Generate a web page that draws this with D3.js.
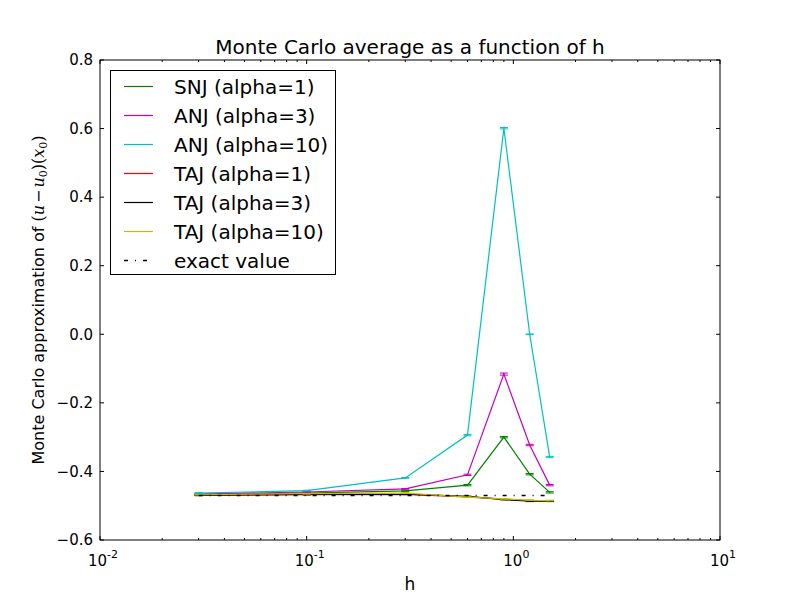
<!DOCTYPE html>
<html>
<head>
<meta charset="utf-8">
<script src="https://cdn.jsdelivr.net/npm/d3@7"></script>
<style>
  body { margin: 0; background: #fff; }
  svg { font-family: "DejaVu Sans", sans-serif; }
  .tick-label { font-size: 15px; }
</style>
</head>
<body>
<svg id="chart"></svg>
<script>
const width = 800;
const height = 600;
const margin = { left: 100, right: 80, top: 60, bottom: 60 };

// step sizes h
const hValues = [0.03, 0.1, 0.3, 0.6, 0.9, 1.2, 1.5];

// Monte Carlo averages for each scheme
const snj1 = [-0.467, -0.463, -0.457, -0.440, -0.300, -0.408, -0.461];
const anj3 = [-0.466, -0.460, -0.451, -0.410, -0.116, -0.323, -0.440];
const anj10 = [-0.463, -0.456, -0.419, -0.294, 0.601, 0.000, -0.358];
const taj1 = [-0.470, -0.468, -0.467, -0.474, -0.481, -0.485, -0.486];
const taj3 = [-0.469, -0.467, -0.466, -0.473, -0.482, -0.487, -0.487];
const taj10 = [-0.468, -0.465, -0.463, -0.475, -0.480, -0.484, -0.485];

// half-widths of the error bars
const snj1Err = [0.001, 0.001, 0.001, 0.002, 0.002, 0.002, 0.002];
const anj3Err = [0.001, 0.001, 0.001, 0.002, 0.003, 0.002, 0.002];
const anj10Err = [0.001, 0.001, 0.001, 0.002, 0.002, 0.001, 0.002];
const taj1Err = [0.001, 0.001, 0.001, 0.001, 0.001, 0.001, 0.001];
const taj3Err = [0.001, 0.001, 0.001, 0.001, 0.001, 0.001, 0.001];
const taj10Err = [0.001, 0.001, 0.001, 0.001, 0.001, 0.001, 0.001];

const exactValue = -0.47;

const yTicks = [-0.6, -0.4, -0.2, 0.0, 0.2, 0.4, 0.6, 0.8];
const xDecades = [-2, -1, 0, 1];

const series = [
  { name: 'SNJ (alpha=1)', color: '#008000', values: snj1, err: snj1Err },
  { name: 'ANJ (alpha=3)', color: '#bf00bf', values: anj3, err: anj3Err },
  { name: 'ANJ (alpha=10)', color: '#00bfbf', values: anj10, err: anj10Err },
  { name: 'TAJ (alpha=1)', color: '#ff0000', values: taj1, err: taj1Err },
  { name: 'TAJ (alpha=3)', color: '#000000', values: taj3, err: taj3Err },
  { name: 'TAJ (alpha=10)', color: '#bfbf00', values: taj10, err: taj10Err },
];

const svg = d3.select('#chart')
  .attr('width', width)
  .attr('height', height);

const x = d3.scaleLog()
  .domain([0.01, 10])
  .range([margin.left, width - margin.right]);

const y = d3.scaleLinear()
  .domain([-0.6, 0.8])
  .range([height - margin.bottom, margin.top]);

const x0 = margin.left;
const x1 = width - margin.right;
const y0 = height - margin.bottom;
const y1 = margin.top;

// ===========================================================================
//      data lines
// ===========================================================================
const line = d3.line()
  .x(function (d) { return x(d[0]); })
  .y(function (d) { return y(d[1]); });

const plot = svg.append('g');

series.forEach(function (s) {
  const pts = hValues.map(function (h, i) { return [h, s.values[i]]; });
  plot.append('path')
    .attr('d', line(pts))
    .attr('fill', 'none')
    .attr('stroke', s.color)
    .attr('stroke-width', 1.2);

  // error bars with caps
  hValues.forEach(function (h, i) {
    const cx = x(h);
    const top = y(s.values[i] + s.err[i]);
    const bot = y(s.values[i] - s.err[i]);
    plot.append('line')
      .attr('x1', cx).attr('x2', cx)
      .attr('y1', top).attr('y2', bot)
      .attr('stroke', s.color);
    [top, bot].forEach(function (cy) {
      plot.append('line')
        .attr('x1', cx - 4).attr('x2', cx + 4)
        .attr('y1', cy).attr('y2', cy)
        .attr('stroke', s.color)
        .attr('stroke-width', 1);
    });
  });
});

// exact value, dash-dot
plot.append('path')
  .attr('d', line([[hValues[0], exactValue], [hValues[hValues.length - 1], exactValue]]))
  .attr('fill', 'none')
  .attr('stroke', '#000')
  .attr('stroke-width', 1.5)
  .attr('stroke-dasharray', '4,7,1,7');

// ===========================================================================
//      axes frame and ticks
// ===========================================================================
const axes = svg.append('g');

axes.append('rect')
  .attr('x', x0).attr('y', y1)
  .attr('width', x1 - x0).attr('height', y0 - y1)
  .attr('fill', 'none')
  .attr('stroke', '#000')
  .attr('stroke-width', 1);

// x ticks: majors at decades, minors 2..9
const xMinor = [];
xDecades.slice(0, -1).forEach(function (e) {
  for (let k = 2; k <= 9; k++) xMinor.push(k * Math.pow(10, e));
});

xDecades.forEach(function (e) {
  const px = x(Math.pow(10, e));
  axes.append('line').attr('x1', px).attr('x2', px).attr('y1', y0).attr('y2', y0 - 4).attr('stroke', '#000');
  axes.append('line').attr('x1', px).attr('x2', px).attr('y1', y1).attr('y2', y1 + 4).attr('stroke', '#000');
  const t = axes.append('text')
    .attr('class', 'tick-label')
    .attr('x', px + 3)
    .attr('y', y0 + 26)
    .attr('text-anchor', 'middle');
  t.append('tspan').text('10');
  t.append('tspan').attr('dy', -8).attr('font-size', 11).text(e < 0 ? '-' + (-e) : String(e));
});

xMinor.forEach(function (v) {
  const px = x(v);
  axes.append('line').attr('x1', px).attr('x2', px).attr('y1', y0).attr('y2', y0 - 2).attr('stroke', '#000');
  axes.append('line').attr('x1', px).attr('x2', px).attr('y1', y1).attr('y2', y1 + 2).attr('stroke', '#000');
});

yTicks.forEach(function (v) {
  const py = y(v);
  axes.append('line').attr('x1', x0).attr('x2', x0 + 4).attr('y1', py).attr('y2', py).attr('stroke', '#000');
  axes.append('line').attr('x1', x1).attr('x2', x1 - 4).attr('y1', py).attr('y2', py).attr('stroke', '#000');
  axes.append('text')
    .attr('class', 'tick-label')
    .attr('x', x0 - 7)
    .attr('y', py)
    .attr('dy', '0.35em')
    .attr('text-anchor', 'end')
    .text(d3.format('.1f')(v).replace('-', '\u2212'));
});

// ===========================================================================
//      titles
// ===========================================================================
svg.append('text')
  .attr('x', (x0 + x1) / 2)
  .attr('y', 54)
  .attr('text-anchor', 'middle')
  .attr('font-size', 20)
  .text('Monte Carlo average as a function of h');

svg.append('text')
  .attr('x', (x0 + x1) / 2)
  .attr('y', 590)
  .attr('text-anchor', 'middle')
  .attr('font-size', 17)
  .text('h');

const yl = svg.append('text')
  .attr('transform', 'translate(44,' + ((y0 + y1) / 2) + ') rotate(-90)')
  .attr('text-anchor', 'middle')
  .attr('font-size', 16);
yl.append('tspan').text('Monte Carlo approximation of ');
const m = yl.append('tspan').attr('font-family', '"DejaVu Serif", serif').attr('font-size', 16);
m.append('tspan').text('(');
m.append('tspan').attr('font-style', 'italic').text('u');
m.append('tspan').attr('dx', 2).text('\u2212');
m.append('tspan').attr('dx', 2).attr('font-style', 'italic').text('u');
m.append('tspan').attr('dy', 3).attr('font-size', 11).text('0');
m.append('tspan').attr('dy', -3).text(')(');
m.append('tspan').attr('font-style', 'italic').text('x');
m.append('tspan').attr('dy', 3).attr('font-size', 11).text('0');
m.append('tspan').attr('dy', -3).text(')');

// ===========================================================================
//      legend
// ===========================================================================
const legendItems = series.map(function (s) { return { name: s.name, color: s.color, dash: null }; })
  .concat([{ name: 'exact value', color: '#000', dash: '4,7,1,7' }]);

const legend = svg.append('g');
legend.append('rect')
  .attr('x', 110.5).attr('y', 70.5)
  .attr('width', 225).attr('height', 204)
  .attr('fill', '#fff')
  .attr('stroke', '#000');

legendItems.forEach(function (d, i) {
  const ly = 86.5 + i * 29;
  legend.append('line')
    .attr('x1', 124).attr('x2', 153)
    .attr('y1', ly).attr('y2', ly)
    .attr('stroke', d.color)
    .attr('stroke-width', d.dash ? 1.5 : 1.2)
    .attr('stroke-dasharray', d.dash);
  legend.append('text')
    .attr('x', 174)
    .attr('y', ly)
    .attr('dy', '0.35em')
    .attr('font-size', 20)
    .text(d.name);
});
</script>
</body>
</html>
